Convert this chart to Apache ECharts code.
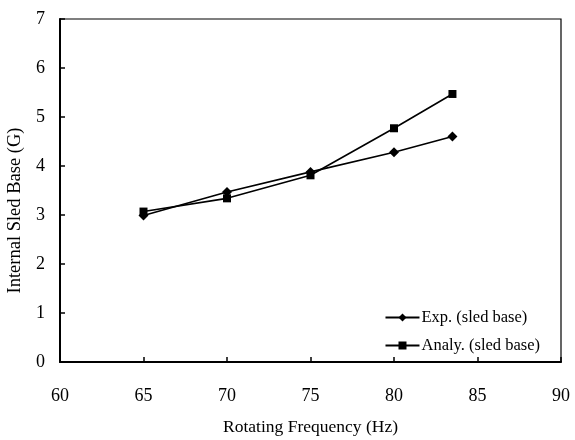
<!DOCTYPE html>
<html>
<head>
<meta charset="utf-8">
<script src="https://cdn.jsdelivr.net/npm/echarts@6/dist/echarts.min.js"></script>
<style>html,body{margin:0;padding:0;background:#fff}#c{width:575px;height:440px}</style>
</head>
<body>
<div id="c"></div>
<script>
const freqs = [65, 70, 75, 80, 83.5];
const expVals = [2.99, 3.47, 3.88, 4.28, 4.6];
const analyVals = [3.07, 3.34, 3.81, 4.77, 5.47];
const seriesNames = ['Exp. (sled base)', 'Analy. (sled base)'];
const xTitle = 'Rotating Frequency (Hz)';
const yTitle = 'Internal Sled Base (G)';

const font = 'Liberation Serif';
const chart = echarts.init(document.getElementById('c'));
chart.setOption({
  animation: false,
  backgroundColor: '#fff',
  grid: { left: 60, right: 14, top: 19, bottom: 78, show: true, borderColor: '#000', borderWidth: 1.2,
          containLabel: false, outerBoundsMode: 'none' },
  xAxis: {
    type: 'value', min: 60, max: 90, interval: 5,
    name: xTitle, nameLocation: 'middle', nameGap: 56,
    nameTextStyle: { fontFamily: font, fontSize: 17.5, color: '#000' },
    axisLine: { lineStyle: { color: '#000', width: 2 } },
    axisTick: { inside: true, length: 5, lineStyle: { color: '#000', width: 1.5 } },
    axisLabel: { fontFamily: font, fontSize: 18, color: '#000', margin: 25 },
    splitLine: { show: false }
  },
  yAxis: {
    type: 'value', min: 0, max: 7, interval: 1,
    name: yTitle, nameLocation: 'middle', nameGap: 34, nameRotate: 90,
    nameTextStyle: { fontFamily: font, fontSize: 18.5, color: '#000', padding: [0, 40, 0, 0] },
    axisLine: { lineStyle: { color: '#000', width: 2 } },
    axisTick: { inside: true, length: 5, lineStyle: { color: '#000', width: 1.5 } },
    axisLabel: { fontFamily: font, fontSize: 18, color: '#000', margin: 15 },
    splitLine: { show: false }
  },
  legend: {
    orient: 'vertical', right: 30, top: 304, itemGap: 11,
    itemWidth: 34, itemHeight: 10,
    textStyle: { fontFamily: font, fontSize: 16.5, color: '#000', padding: [0, 0, 0, -3] },
    data: seriesNames
  },
  series: [
    {
      name: seriesNames[0], type: 'line',
      data: freqs.map((f, i) => [f, expVals[i]]),
      symbol: 'diamond', symbolSize: 10,
      itemStyle: { color: '#000' },
      lineStyle: { color: '#000', width: 1.6 }
    },
    {
      name: seriesNames[1], type: 'line',
      data: freqs.map((f, i) => [f, analyVals[i]]),
      symbol: 'rect', symbolSize: 8,
      itemStyle: { color: '#000' },
      lineStyle: { color: '#000', width: 1.6 }
    }
  ]
});
</script>
</body>
</html>
